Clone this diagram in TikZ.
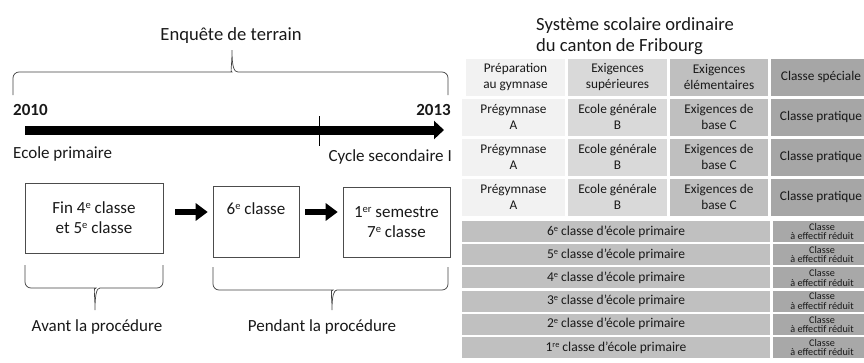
\documentclass[tikz,border=0pt]{standalone}
\usepackage{fontspec}
\setmainfont{Carlito}
\usetikzlibrary{arrows.meta,positioning}
\definecolor{cellgym}{HTML}{F2F2F2}
\definecolor{cellsupe}{HTML}{D9D9D9}
\definecolor{cellelem}{HTML}{BFBFBF}
\definecolor{cellspec}{HTML}{A6A6A6}
\definecolor{cellprim}{HTML}{C0C0C0}
\definecolor{cellred}{HTML}{A8A8A8}
\newcommand{\expo}[1]{\raisebox{0.62ex}{\scalebox{0.62}{#1}}}

\begin{document}
\begin{tikzpicture}[x=1pt, y=-1pt,
	txt/.style={inner sep=0pt, text=black!90, font=\fontsize{17}{20}\selectfont},
	bigtxt/.style={inner sep=0pt, text=black!90, font=\fontsize{18.6}{21}\selectfont},
	box/.style={draw=black!70, line width=0.6pt, align=center, inner sep=0pt, text=black!90, font=\fontsize{17}{20}\selectfont},
	bracket/.style={draw=black!75, line width=0.7pt},
	fatarrow/.style={line width=5.5pt, -{Triangle[length=12pt,width=17pt]}},
	cell/.style={inner sep=0pt, align=center, minimum height=37pt, text=black!90, font=\fontsize{13.3}{16}\selectfont},
	prim/.style={inner sep=0pt, fill=cellprim, minimum height=21pt, minimum width=308pt, text=black!90, font=\fontsize{13.5}{16}\selectfont},
	reduit/.style={inner sep=0pt, fill=cellred, minimum height=21pt, minimum width=98pt, align=center, text=black!90, font=\fontsize{10.2}{9.4}\selectfont}]
	\useasboundingbox (0,0) rectangle (864,362);

	% enquete / timeline
	\node[bigtxt] (enq) at (231,36) {Enquête de terrain};
	\draw[bracket] (13,95) [rounded corners=6pt] |- (226,72) [sharp corners] .. controls (230,72) and (232,67) .. (232,50)
		.. controls (232,67) and (234,72) .. (238,72) [rounded corners=6pt] -| (448,95);
	\node[txt, anchor=west] (y0) at (13,110) {\textbf{2010}};
	\node[txt, anchor=east] (y1) at (451,110) {\textbf{2013}};
	\coordinate (t0) at (25,130);
	\coordinate (t1) at (444,130);
	\draw[line width=9pt, -{Triangle[length=10pt,width=18pt]}] (t0) -- (t1);
	\coordinate (tickA) at (319,116);
	\coordinate (tickB) at (319,146);
	\draw[line width=0.8pt] (tickA) -- (tickB);
	\node[txt, anchor=west] (prima) at (13,154) {Ecole primaire};
	\node[txt, anchor=east] (seco) at (452,157) {Cycle secondaire I};

	% steps
	\node[box, minimum width=138pt, minimum height=70pt] (fin) at (94,218) {Fin 4\expo{e} classe\\et 5\expo{e} classe};
	\node[box, minimum width=86pt, minimum height=71pt] (six) at (256,221.5) {6\expo{e} classe\\\strut};
	\node[box, minimum width=107pt, minimum height=70pt] (sept) at (396.5,222) {1\expo{er} semestre\\7\expo{e} classe};
	\draw[fatarrow] ([xshift=12pt,yshift=6pt]fin.east) -- ([xshift=-5pt,yshift=9.5pt]six.west);
	\draw[fatarrow] ([xshift=6pt,yshift=9.5pt]six.east) -- ([xshift=-5pt,yshift=10pt]sept.west);

	\draw[bracket] (25,265) [rounded corners=6pt] |- (90,288) [sharp corners] .. controls (93,288) and (95,293) .. (95,310)
		.. controls (95,293) and (97,288) .. (100,288) [rounded corners=6pt] -| (163,265);
	\draw[bracket] (213,267) [rounded corners=6pt] |- (327,290) [sharp corners] .. controls (330,290) and (332,295) .. (332,310)
		.. controls (332,295) and (334,290) .. (337,290) [rounded corners=6pt] -| (448,267);
	\node[txt] (avant) at (97,327) {Avant la procédure};
	\node[txt] (pendant) at (322,327) {Pendant la procédure};

	% systeme scolaire
	\node[bigtxt, align=left, anchor=west] (sys) at (536,36) {Système scolaire ordinaire\\du canton de Fribourg};
	\node[cell, fill=cellgym, minimum width=99pt] (h1) at (515.5,77) {Préparation\\au gymnase};
	\node[cell, fill=cellsupe, minimum width=99pt] (h2) at (617.5,77) {Exigences\\supérieures};
	\node[cell, fill=cellelem, minimum width=98pt] (h3) at (719,77) {Exigences\\élémentaires};
	\node[cell, fill=cellspec, minimum width=100pt] (h4) at (821,77) {Classe spéciale};
	\foreach \r/\y in {1/117,2/157,3/197} {
		\node[cell, fill=cellgym, minimum width=103pt] (a\r) at (513.5,\y) {Prégymnase\\A};
		\node[cell, fill=cellsupe, minimum width=99pt] (b\r) at (617.5,\y) {Ecole générale\\B};
		\node[cell, fill=cellelem, minimum width=98pt] (c\r) at (719,\y) {Exigences de\\base C};
		\node[cell, fill=cellspec, minimum width=100pt] (d\r) at (821,\y) {Classe pratique};
	}
	\foreach \n/\s [count=\i from 0, evaluate=\i as \y using 231.5+23.2*\i] in {6/e,5/e,4/e,3/e,2/e,1/re} {
		\node[prim] (p\n) at (616,\y) {\n\expo{\s} classe d’école primaire};
		\node[reduit] (r\n) at (822,\y) {Classe\\à effectif réduit};
	}
\end{tikzpicture}
\end{document}
